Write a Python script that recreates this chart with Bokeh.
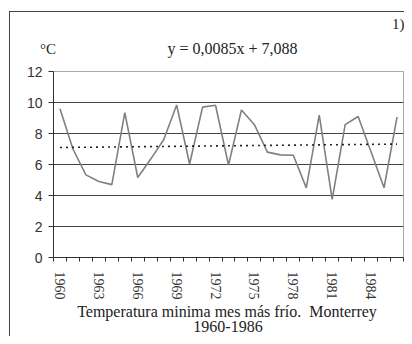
from bokeh.plotting import figure
from bokeh.layouts import column
from bokeh.models import FixedTicker, Label, Range1d
from bokeh.embed import file_html
from bokeh.resources import INLINE

years = list(range(1960, 1987))
temps = [9.6, 7.0, 5.33, 4.9, 4.7, 9.35, 5.16, 6.35, 7.6, 9.84, 6.03, 9.7, 9.82, 5.97,
         9.52, 8.57, 6.8, 6.62, 6.6, 4.49, 9.18, 3.75, 8.57, 9.1, 6.8, 4.5, 9.06]
tick_years = [1960, 1963, 1966, 1969, 1972, 1975, 1978, 1981, 1984]
y_ticks = [0, 2, 4, 6, 8, 10, 12]
trend_slope = 0.0085
trend_intercept = 7.088
title_text = "y = 0,0085x + 7,088"
unit_text = "°C"
corner_text = "1)"
caption_1 = "Temperatura minima mes más frío.\u00a0 Monterrey"
caption_2 = "1960-1986"

trend = [trend_slope * (i + 1) + trend_intercept for i in range(len(years))]

p = figure(width=394, height=324, output_backend="svg", toolbar_location=None,
           x_range=Range1d(years[0] - 0.5, years[-1] + 0.5), y_range=Range1d(0, 12),
           min_border_left=43, min_border_right=1, min_border_top=59, min_border_bottom=79,
           background_fill_color="white", border_fill_color="white")
p.outline_line_color = "#a8a8a8"
p.outline_line_width = 1

p.line(years, temps, line_color="#808080", line_width=1.6)
p.line(years, trend, line_color="#222222", line_width=1.6, line_dash="2 4")

# axes
xa = p.xaxis[0]
xa.ticker = FixedTicker(ticks=tick_years, minor_ticks=[y - 0.5 for y in years] + [years[-1] + 0.5])
xa.major_label_orientation = "vertical"
xa.major_tick_out = 0
xa.major_tick_in = 0
xa.minor_tick_out = 4
xa.minor_tick_in = 0
xa.minor_tick_line_color = "#333333"
xa.axis_line_color = "#333333"
xa.major_label_text_font = "Liberation Serif"
xa.major_label_text_font_size = "14px"
xa.major_label_text_color = "#333333"
xa.major_label_standoff = 10

ya = p.yaxis[0]
ya.ticker = FixedTicker(ticks=y_ticks)
ya.major_tick_out = 5
ya.major_tick_in = 0
ya.minor_tick_line_color = None
ya.axis_line_color = "#333333"
ya.major_tick_line_color = "#333333"
ya.major_label_text_font = "Liberation Sans"
ya.major_label_text_font_size = "14px"
ya.major_label_text_color = "#333333"
ya.major_label_standoff = 6

p.xgrid.grid_line_color = None
p.ygrid.ticker = FixedTicker(ticks=[2, 4, 6, 8, 10])
p.ygrid.grid_line_color = "#444444"
p.ygrid.grid_line_width = 1.2

def mk(text, x, y, size="16px", align="center"):
    return Label(x=x, y=y, x_units="screen", y_units="screen", text=text,
                 text_font="Liberation Serif", text_font_size=size,
                 text_align=align, text_baseline="middle", text_color="#222222")

# side-panel labels stack outward from the frame; y is measured from each label's own panel edge
top_labels = [mk(title_text, 179, 23.5), mk(unit_text, -5.5, 5.5, "15px"),
              mk(corner_text, 351, 15, "15px", "right")]
bottom_labels = [mk(caption_1, 173.5, 8), mk(caption_2, 174.5, 4)]
p.above = top_labels + list(p.above)
p.below = list(p.below) + bottom_labels

layout = column(p, styles={"margin-left": "9px", "margin-top": "11px",
                           "border-left": "1px solid #444444",
                           "border-top": "1px solid #444444"})

open("out.html", "w").write(file_html(layout, INLINE))
